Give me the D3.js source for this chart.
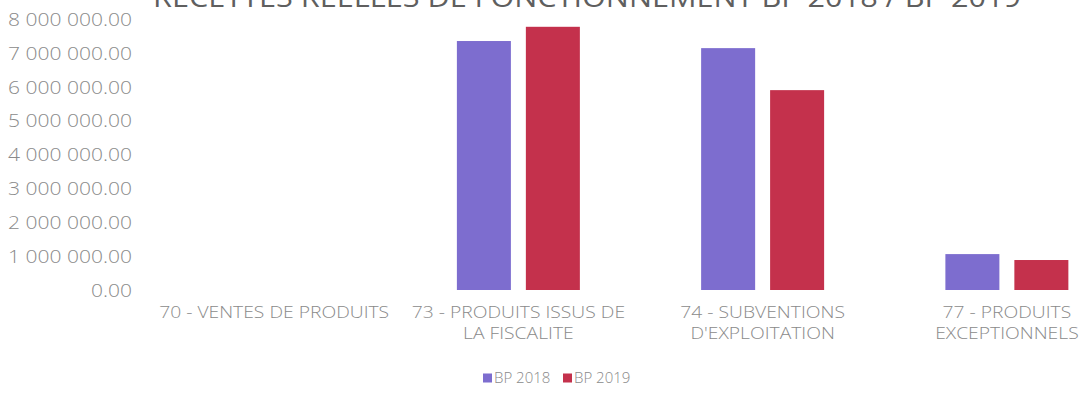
<!DOCTYPE html>
<html><head><meta charset="utf-8">
<script src="https://cdn.jsdelivr.net/npm/d3@7"></script>
<style>
html,body{margin:0;padding:0;background:#fff;}
svg{display:block;}
</style></head>
<body>
<svg id="chart" width="1081" height="404"></svg>
<script>
const title = "RECETTES REELLES DE FONCTIONNEMENT BP 2018 / BP 2019";
const categories = [
  "70 - VENTES DE PRODUITS",
  "73 - PRODUITS ISSUS DE\nLA FISCALITE",
  "74 - SUBVENTIONS\nD'EXPLOITATION",
  "77 - PRODUITS\nEXCEPTIONNELS"
];
const seriesNames = ["BP 2018", "BP 2019"];
const bp2018 = [0, 7350000, 7140000, 1060000];
const bp2019 = [0, 7770000, 5900000, 885000];
const yTicks = [0, 1000000, 2000000, 3000000, 4000000, 5000000, 6000000, 7000000, 8000000];
const colors = ["#7d6dcf", "#c4314c"];

const svg = d3.select("#chart");
const font = "'Open Sans', 'Noto Sans', sans-serif";
const textColor = "#8a8a8a";

const x = d3.scaleBand().domain(categories).range([152, 1129]).paddingInner(0).paddingOuter(0);
const xs = d3.scaleBand().domain(seriesNames).range([0, x.bandwidth()]).paddingInner(0.217).paddingOuter(0.879);
const y = d3.scaleLinear().domain([0, 8000000]).range([290, 19]);

const loc = d3.formatLocale({decimal: ".", thousands: " ", grouping: [3], currency: ["", ""]});
const fmt = loc.format(",.2f");

// Title (clipped at top, as in the reference)
svg.append("text")
  .attr("x", 587).attr("y", 7)
  .attr("text-anchor", "middle")
  .attr("font-family", font).attr("font-size", 27)
  .attr("fill", "#5f5f5f")
  .attr("textLength", 868).attr("lengthAdjust", "spacingAndGlyphs")
  .text(title);

function stretch(sel, k) {
  sel.each(function() {
    const w = this.getComputedTextLength();
    d3.select(this).attr("textLength", w * k).attr("lengthAdjust", "spacingAndGlyphs");
  });
}

// Y axis
const yAxis = d3.axisLeft(y).tickValues(yTicks).tickFormat(fmt).tickSize(0).tickPadding(0);
const gy = svg.append("g").attr("transform", "translate(132,0)").call(yAxis);
gy.select(".domain").remove();
const yt = gy.selectAll("text")
  .attr("font-family", font).attr("font-size", 18).attr("font-weight", 300)
  .attr("fill", textColor).attr("dy", "0.35em");
{
  const top = yt.filter(d => d === 8000000).node();
  const k = 124 / top.getComputedTextLength();
  stretch(yt, k);
}

// Bars
const series = [bp2018, bp2019];
const groups = svg.append("g").selectAll("g").data(categories).join("g")
  .attr("transform", d => `translate(${x(d)},0)`);
groups.selectAll("rect")
  .data((d, i) => seriesNames.map((s, j) => ({s, v: series[j][i], c: colors[j]})))
  .join("rect")
  .attr("x", d => xs(d.s))
  .attr("width", xs.bandwidth())
  .attr("y", d => y(d.v))
  .attr("height", d => y(0) - y(d.v))
  .attr("fill", d => d.c);

// X axis labels
const xAxis = d3.axisBottom(x).tickSize(0).tickPadding(0).tickFormat(() => "");
const gx = svg.append("g").attr("transform", "translate(0,290)").call(xAxis);
gx.select(".domain").remove();
gx.selectAll(".tick").each(function(d) {
  const t = d3.select(this).select("text")
    .attr("font-family", font).attr("font-size", 17).attr("font-weight", 300)
    .attr("fill", textColor).attr("y", 0).attr("dy", 0);
  d.split("\n").forEach((line, i) => {
    t.append("tspan").attr("x", 0).attr("y", 28 + i * 21).text(line);
  });
});
{
  const spans = gx.selectAll("tspan");
  const first = spans.filter(function() { return this.textContent === "70 - VENTES DE PRODUITS"; }).node();
  const k = 230 / first.getComputedTextLength();
  stretch(spans, k);
}

// Legend
const legendX = [483, 563];
const lg = svg.append("g").selectAll("g").data(seriesNames).join("g")
  .attr("transform", (d, i) => `translate(${legendX[i]},378)`);
lg.append("rect").attr("x", 0).attr("y", -4.5).attr("width", 9).attr("height", 9)
  .attr("fill", (d, i) => colors[i]);
lg.append("text").attr("x", 11).attr("y", 0).attr("dy", "0.35em")
  .attr("font-family", font).attr("font-size", 15).attr("font-weight", 300)
  .attr("fill", textColor).text(d => d);
</script>
</body></html>
